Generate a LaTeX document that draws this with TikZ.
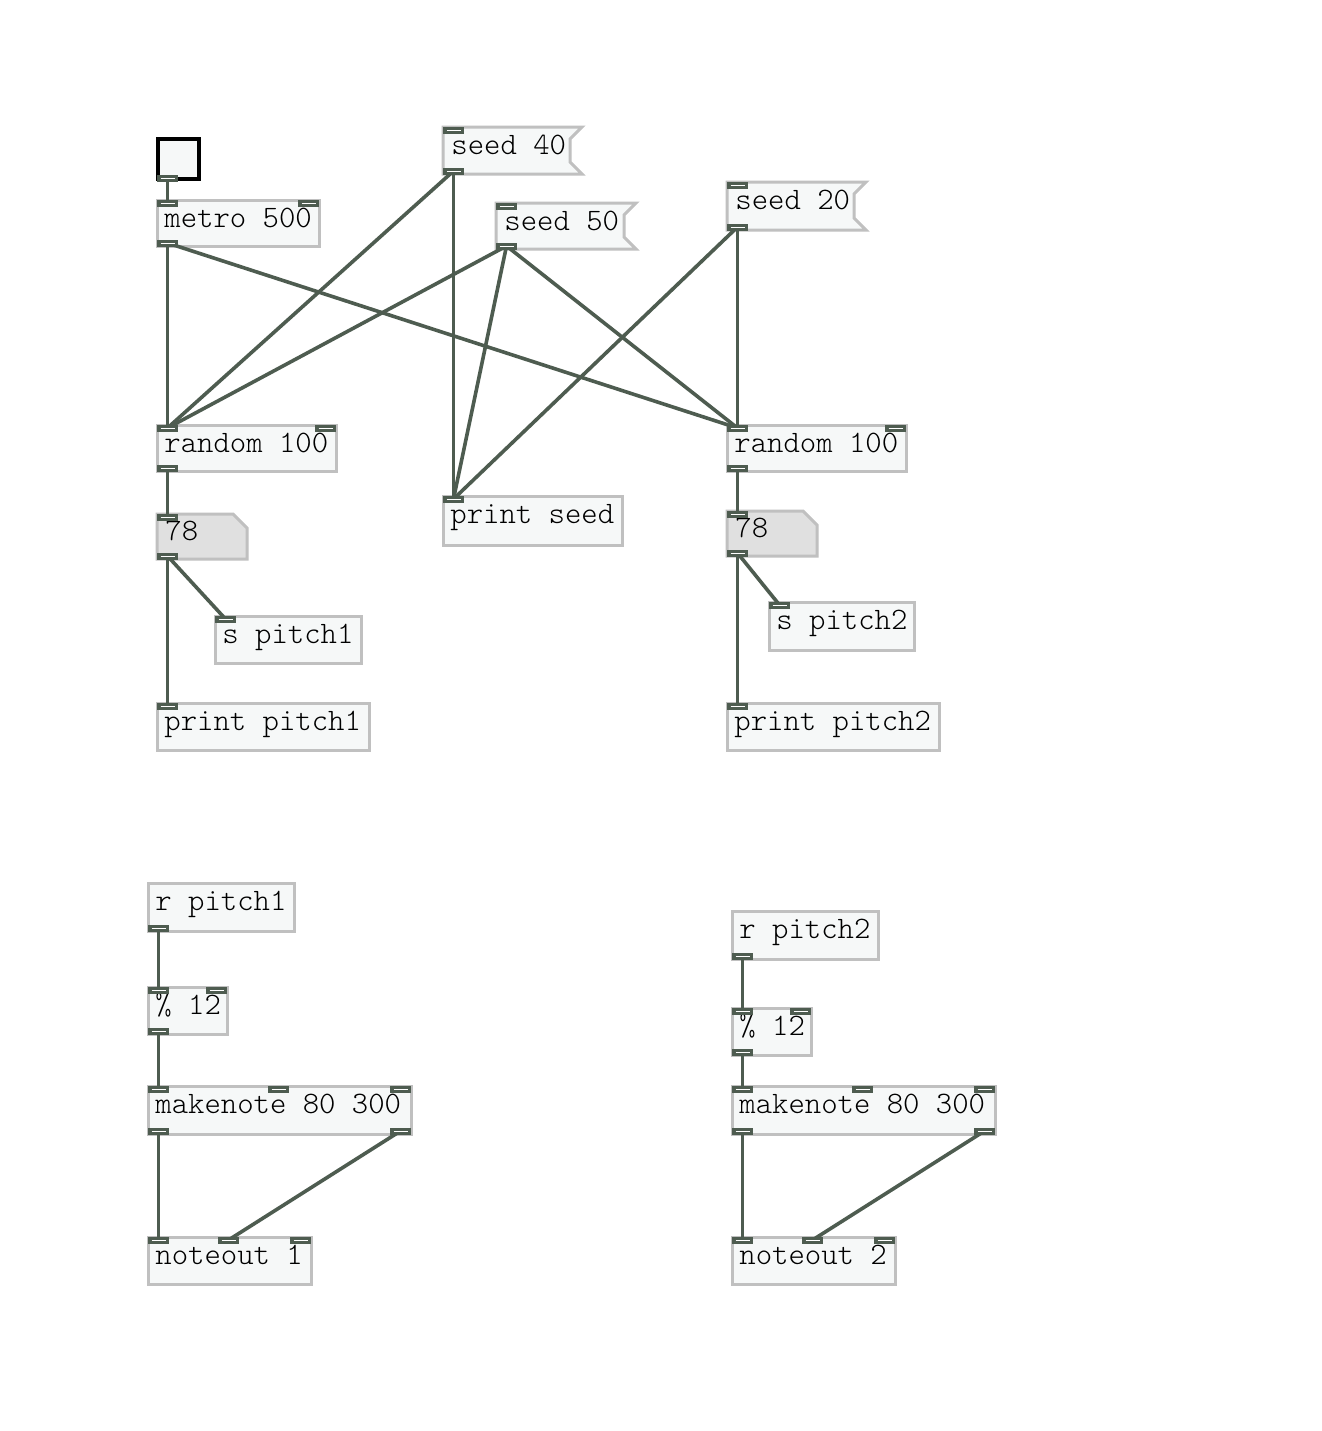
\documentclass[tikz,border=0pt]{standalone}
\usepackage{fontspec}
\newfontfamily\pdfont{Latin Modern Mono Light}
\usetikzlibrary{calc}
\definecolor{wire}{RGB}{78,92,80}
\definecolor{boxline}{RGB}{192,192,192}
\definecolor{boxfill}{RGB}{246,248,248}
\definecolor{numfill}{RGB}{224,224,224}
\tikzset{
  box/.style={draw=boxline, line width=1.5pt, fill=boxfill},
  numbox/.style={draw=boxline, line width=1.5pt, fill=numfill},
  txt/.style={anchor=base west, inner sep=0pt, font=\pdfont\fontsize{15.6pt}{18pt}\selectfont},
  conn/.style={draw=wire, line width=1.8pt},
  io/.style={fill=wire},
}
% object box: name, x, y, w, h, text
\newcommand\pdobj[6]{%
  \draw[box] (#2,#3) rectangle ++(#4,#5);
  \node[txt] (#1) at (#2+7,#3+27) {#6};}
% message box
\newcommand\pdmsg[6]{%
  \draw[box] (#2,#3) -- (#2+#4,#3) -- (#2+#4-12,#3+12) -- (#2+#4-12,#3+#5-12) -- (#2+#4,#3+#5) -- (#2,#3+#5) -- cycle;
  \node[txt] (#1) at (#2+8,#3+27) {#6};}
% number box
\newcommand\pdnum[6]{%
  \draw[numbox] (#2,#3) -- (#2+#4-14,#3) -- (#2+#4,#3+14) -- (#2+#4,#3+#5) -- (#2,#3+#5) -- cycle;
  \node[txt] (#1) at (#2+8,#3+26) {#6};}
% inlet / outlet coordinates
\newcommand\inl[3]{\coordinate (#1) at (#2+10.5,#3+3);}
\newcommand\outl[3]{\coordinate (#1) at (#2+10.5,#3-3);}
\begin{document}
\begin{tikzpicture}[x=0.5pt,y=-0.5pt]
\fill[white] (0,0) rectangle (1322,1431);
\useasboundingbox (0,0) rectangle (1322,1431);

% bang
\draw[black, line width=2pt, fill=boxfill] (158,139) rectangle (199,179);
\coordinate (bang) at (168,160);
\coordinate (bang-o) at (167.5,178);

% boxes
\pdobj{metro}{157}{200}{162}{46}{metro 500}
\inl{metro-i0}{157}{200}\inl{metro-i1}{298}{200}\outl{metro-o0}{157}{246}

\pdmsg{s40}{443}{127}{139}{47}{seed 40}
\inl{s40-i}{443}{127}\outl{s40-o}{443}{174}
\pdmsg{s50}{496}{203}{140}{46}{seed 50}
\inl{s50-i}{496}{203}\outl{s50-o}{496}{249}
\pdmsg{s20}{727}{182}{139}{48}{seed 20}
\inl{s20-i}{727}{182}\outl{s20-o}{727}{230}

\pdobj{randL}{157}{425}{179}{46}{random 100}
\inl{randL-i0}{157}{425}\inl{randL-i1}{315}{425}\outl{randL-o}{157}{471}
\pdobj{randR}{727}{425}{179}{46}{random 100}
\inl{randR-i0}{727}{425}\inl{randR-i1}{885}{425}\outl{randR-o}{727}{471}

\pdobj{pseed}{443}{496}{179}{49}{print seed}
\inl{pseed-i}{443}{496}

\pdnum{nL}{157}{514}{90}{45}{78}
\inl{nL-i}{157}{514}\outl{nL-o}{157}{559}
\pdnum{nR}{727}{511}{90}{45}{78}
\inl{nR-i}{727}{511}\outl{nR-o}{727}{556}

\pdobj{spL}{215}{616}{146}{47}{s pitch1}
\inl{spL-i}{215}{616}
\pdobj{spR}{769}{602}{145}{48}{s pitch2}
\inl{spR-i}{769}{602}

\pdobj{ppL}{157}{703}{212}{47}{print pitch1}
\inl{ppL-i}{157}{703}
\pdobj{ppR}{727}{703}{212}{47}{print pitch2}
\inl{ppR-i}{727}{703}

\pdobj{rL}{148}{883}{146}{48}{r pitch1}
\outl{rL-o}{148}{931}
\pdobj{modL}{148}{987}{79}{47}{\% 12}
\inl{modL-i0}{148}{987}\inl{modL-i1}{206}{987}\outl{modL-o}{148}{1034}
\pdobj{mkL}{148}{1086}{263}{48}{makenote 80 300}
\inl{mkL-i0}{148}{1086}\inl{mkL-i1}{268}{1086}\inl{mkL-i2}{390}{1086}
\outl{mkL-o0}{148}{1134}\outl{mkL-o1}{390}{1134}
\pdobj{noL}{148}{1237}{163}{47}{noteout 1}
\inl{noL-i0}{148}{1237}\inl{noL-i1}{218}{1237}\inl{noL-i2}{290}{1237}

\pdobj{rR}{732}{911}{146}{48}{r pitch2}
\outl{rR-o}{732}{959}
\pdobj{modR}{732}{1008}{79}{47}{\% 12}
\inl{modR-i0}{732}{1008}\inl{modR-i1}{790}{1008}\outl{modR-o}{732}{1055}
\pdobj{mkR}{732}{1086}{263}{48}{makenote 80 300}
\inl{mkR-i0}{732}{1086}\inl{mkR-i1}{852}{1086}\inl{mkR-i2}{974}{1086}
\outl{mkR-o0}{732}{1134}\outl{mkR-o1}{974}{1134}
\pdobj{noR}{732}{1237}{163}{47}{noteout 2}
\inl{noR-i0}{732}{1237}\inl{noR-i1}{802}{1237}\inl{noR-i2}{874}{1237}

% connections
\draw[conn] (bang-o) -- (metro-i0);
\draw[conn] (metro-o0) -- (randL-i0);
\draw[conn] (metro-o0) -- (randR-i0);
\draw[conn] (s40-o) -- (randL-i0);
\draw[conn] (s40-o) -- (pseed-i);
\draw[conn] (s50-o) -- (randL-i0);
\draw[conn] (s50-o) -- (pseed-i);
\draw[conn] (s50-o) -- (randR-i0);
\draw[conn] (s20-o) -- (randR-i0);
\draw[conn] (s20-o) -- (pseed-i);
\draw[conn] (randL-o) -- (nL-i);
\draw[conn] (nL-o) -- (spL-i);
\draw[conn] (nL-o) -- (ppL-i);
\draw[conn] (randR-o) -- (nR-i);
\draw[conn] (nR-o) -- (spR-i);
\draw[conn] (nR-o) -- (ppR-i);
\draw[conn] (rL-o) -- (modL-i0);
\draw[conn] (modL-o) -- (mkL-i0);
\draw[conn] (mkL-o0) -- (noL-i0);
\draw[conn] (mkL-o1) -- (noL-i1);
\draw[conn] (rR-o) -- (modR-i0);
\draw[conn] (modR-o) -- (mkR-i0);
\draw[conn] (mkR-o0) -- (noR-i0);
\draw[conn] (mkR-o1) -- (noR-i1);

% iolets on top
\foreach \c in {bang-o,metro-i0,metro-i1,metro-o0,s40-i,s40-o,s50-i,s50-o,s20-i,s20-o,
  randL-i0,randL-i1,randL-o,randR-i0,randR-i1,randR-o,pseed-i,nL-i,nL-o,nR-i,nR-o,
  spL-i,spR-i,ppL-i,ppR-i,rL-o,modL-i0,modL-i1,modL-o,mkL-i0,mkL-i1,mkL-i2,mkL-o0,mkL-o1,
  noL-i0,noL-i1,noL-i2,rR-o,modR-i0,modR-i1,modR-o,mkR-i0,mkR-i1,mkR-i2,mkR-o0,mkR-o1,
  noR-i0,noR-i1,noR-i2}{
  \fill[io] ($(\c)+(-10.5,-3.5)$) rectangle ($(\c)+(10.5,3.5)$);
  \draw[white, line width=0.45pt] ($(\c)+(-7,0)$) -- ($(\c)+(7,0)$);
}
\end{tikzpicture}
\end{document}
